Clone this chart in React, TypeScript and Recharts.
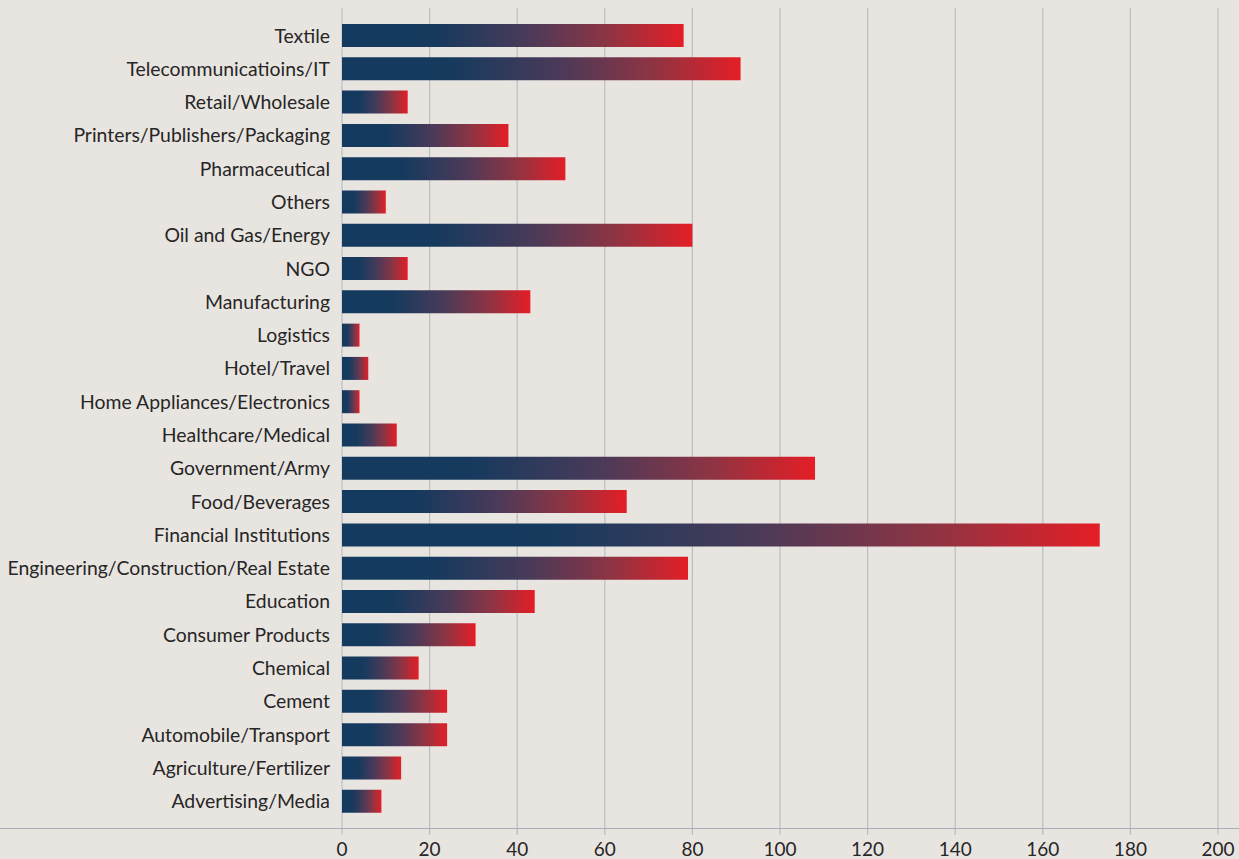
import {
  BarChart,
  Bar,
  XAxis,
  YAxis,
  CartesianGrid,
} from 'recharts';

// categories top to bottom, as in the picture
const sectors = [
  'Textile',
  'Telecommunicatioins/IT',
  'Retail/Wholesale',
  'Printers/Publishers/Packaging',
  'Pharmaceutical',
  'Others',
  'Oil and Gas/Energy',
  'NGO',
  'Manufacturing',
  'Logistics',
  'Hotel/Travel',
  'Home Appliances/Electronics',
  'Healthcare/Medical',
  'Government/Army',
  'Food/Beverages',
  'Financial Institutions',
  'Engineering/Construction/Real Estate',
  'Education',
  'Consumer Products',
  'Chemical',
  'Cement',
  'Automobile/Transport',
  'Agriculture/Fertilizer',
  'Advertising/Media',
];

const counts = [
  78, 91, 15, 38, 51, 10, 80, 15, 43, 4, 6, 4, 12.5, 108, 65, 173, 79, 44, 30.5, 17.5, 24, 24, 13.5, 9,
];

const xTicks = [0, 20, 40, 60, 80, 100, 120, 140, 160, 180, 200];

const data = sectors.map((name, i) => ({ name, value: counts[i] }));

const BG = '#E8E5E1';
const GRID = '#B9BEC3';
const TEXT = '#272526';
const FONT = 'Lato, "Open Sans", sans-serif';

export default function App() {
  return (
    <div
      style={{
        position: 'fixed',
        left: 0,
        top: 0,
        width: 1239,
        height: 859,
        background: BG,
        fontFamily: FONT,
      }}
    >
      <BarChart
        width={1239}
        height={859}
        data={data}
        layout="vertical"
        margin={{ top: 8, right: 21, bottom: 0, left: 0 }}
        barSize={23}
      >
        <defs>
          <linearGradient id="barFade" x1="0" y1="0" x2="1" y2="0">
            <stop offset="0%" stopColor="#143A5F" />
            <stop offset="27%" stopColor="#153A5E" />
            <stop offset="55%" stopColor="#4B3A58" />
            <stop offset="78%" stopColor="#8E3443" />
            <stop offset="100%" stopColor="#E41E26" />
          </linearGradient>
        </defs>
        <CartesianGrid horizontal={false} stroke={GRID} strokeWidth={1.2} />
        <XAxis
          type="number"
          domain={[0, 200]}
          ticks={xTicks}
          height={31}
          axisLine={false}
          tickSize={7}
          tickMargin={8}
          tickLine={{ stroke: GRID, strokeWidth: 1.2 }}
          tick={{ fill: TEXT, fontSize: 19, fontFamily: FONT }}
        />
        <YAxis
          type="category"
          dataKey="name"
          width={342}
          axisLine={false}
          tickLine={false}
          tickSize={0}
          tickMargin={12}
          interval={0}
          padding={{ top: 11, bottom: 10 }}
          tick={{ fill: TEXT, fontSize: 19.4, fontFamily: FONT }}
        />
        <Bar dataKey="value" fill="url(#barFade)" isAnimationActive={false} />
      </BarChart>
      <div
        style={{
          position: 'absolute',
          left: 0,
          top: 828,
          width: 1239,
          height: 1,
          background: '#A9AEB4',
        }}
      />
    </div>
  );
}
